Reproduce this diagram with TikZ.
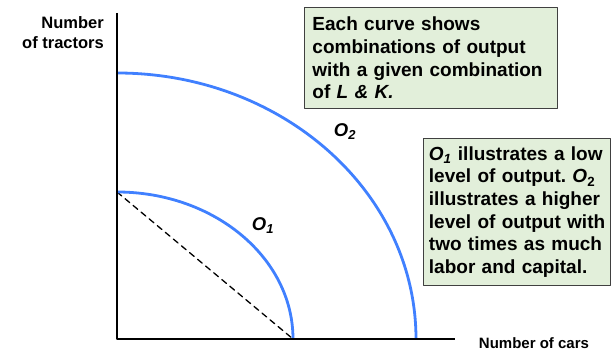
\documentclass[tikz,border=0pt]{standalone}
\usepackage{fontspec}
\setmainfont{Liberation Sans}
\usetikzlibrary{positioning}
\definecolor{curveblue}{RGB}{64,128,255}
\definecolor{notegreen}{RGB}{226,239,218}
\frenchspacing

\begin{document}
\begin{tikzpicture}[x=1pt, y=1pt, line cap=round, line join=round]
\tikzset{
    axisline/.style={draw=black, line width=1.8pt, line cap=butt},
    curve/.style={draw=curveblue, line width=2.8pt, line cap=butt},
    guide/.style={draw=black, line width=1.3pt, dash pattern=on 6pt off 4.5pt},
    notebox/.style={fill=notegreen, draw=black!75, line width=0.9pt, align=left,
        font=\fontsize{19}{22.6}\selectfont\bfseries, anchor=north west},
    axislabel/.style={font=\fontsize{16.5}{20}\selectfont\bfseries, inner sep=0pt},
    curvelabel/.style={font=\fontsize{18.5}{22}\selectfont\bfseries\itshape, inner sep=0pt}
}
\useasboundingbox (0,0) rectangle (611,352);
\coordinate (origin) at (117,13);
\coordinate (ytop) at (117,339);
\coordinate (xend) at (455,13);
\coordinate (lowtop) at (117,160);
\coordinate (lowend) at (293,13);
\coordinate (hightop) at (117,279);

\draw[guide] (lowtop) -- (lowend);
\draw[curve] (lowtop) arc[start angle=90, end angle=0, x radius=176, y radius=147];
\draw[curve] (hightop) arc[start angle=90, end angle=0, x radius=299, y radius=266];
\draw[axisline] (ytop) -- (origin) -- (xend);

\node[curvelabel] (lowlabel) at (263,126) {O\textsubscript{1}};
\node[curvelabel] (highlabel) at (345,220) {O\textsubscript{2}};

\node[axislabel, align=right, anchor=north east] (tractorslabel) at (104,336)
    {Number\\of tractors};
\node[axislabel, font=\fontsize{15}{18}\selectfont\bfseries] (carslabel) at (534,9)
    {Number of cars};

\node[notebox, text width=237pt, inner xsep=8pt, minimum height=101pt] (combonote) at (304,345)
    {Each curve shows\\combinations of output\\with a given combination\\of \textit{L \& K.}};
\node[notebox, text width=176pt, inner xsep=5.5pt, minimum height=147pt] (outputnote) at (423,214)
    {\mbox{\textit{O\textsubscript{1}} illustrates a low}\\\mbox{level of output. \textit{O}\textsubscript{2}}\\\mbox{illustrates a higher}\\\mbox{level of output with}\\\mbox{two times as much}\\\mbox{labor and capital.}};
\end{tikzpicture}
\end{document}
